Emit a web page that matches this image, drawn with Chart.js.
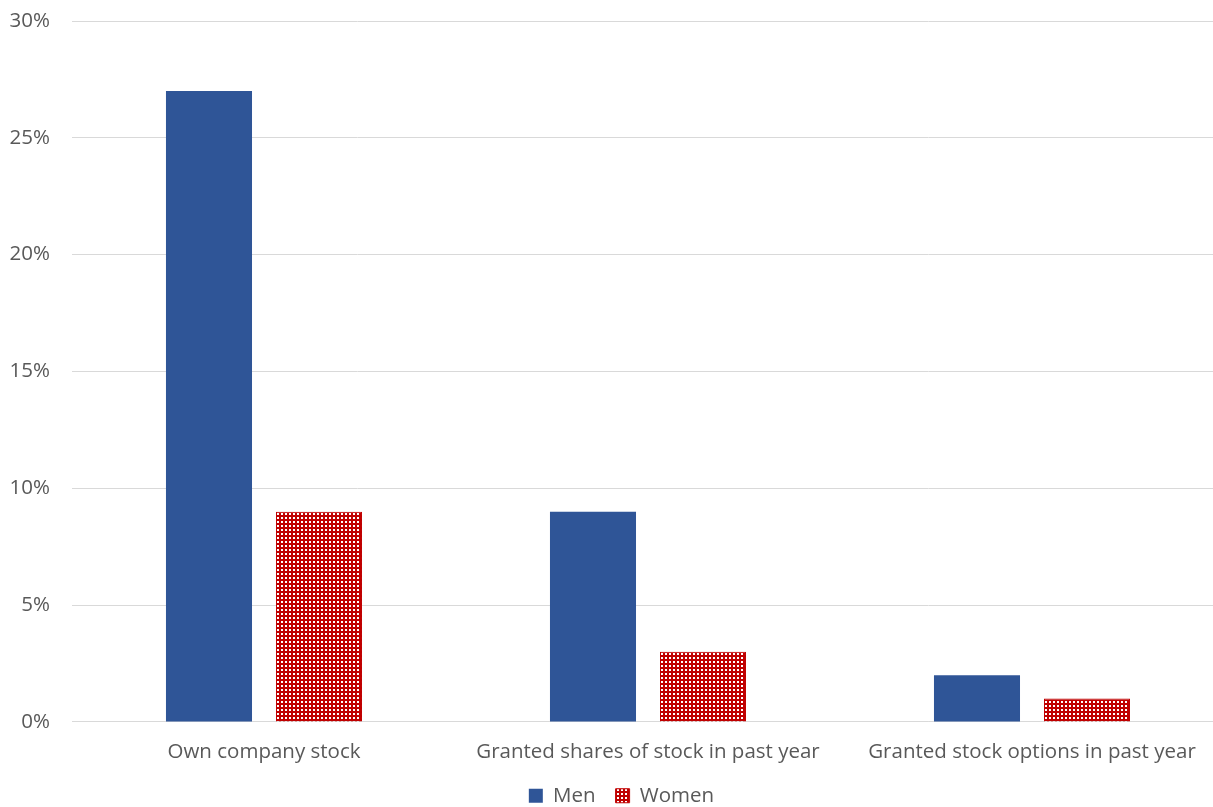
<!DOCTYPE html>
<html><head><meta charset="utf-8">
<script src="https://cdn.jsdelivr.net/npm/chart.js@4/dist/chart.umd.min.js"></script>
<style>html,body{margin:0;padding:0;background:#fff;overflow:hidden}#wrap{width:1213px;height:807px}</style>
</head><body><div id="wrap"><canvas id="c" width="1213" height="807"></canvas></div>
<script>
const categories = ["Own company stock", "Granted shares of stock in past year", "Granted stock options in past year"];
const menValues = [27, 9, 2];
const womenValues = [9, 3, 1];
const yTicks = [0, 5, 10, 15, 20, 25, 30];

function makePattern(){
  const p = document.createElement('canvas');
  p.width = 4; p.height = 4;
  const g = p.getContext('2d');
  g.fillStyle = '#c00000'; g.fillRect(0,0,4,4);
  g.fillStyle = '#ffffff'; g.fillRect(1,1,2,2);
  return document.getElementById('c').getContext('2d').createPattern(p,'repeat');
}
const pat = makePattern();
const FONT = 'Open Sans';
const FS = 20.5;
const PLOT_RIGHT = 1224;
const LEGEND_SHIFT_X = 10;
const LEGEND_SHIFT_Y = -9;

const extendPlot = {
  id: 'extendPlot',
  afterLayout(chart) {
    const x = chart.scales.x;
    x.right = PLOT_RIGHT;
    x.width = x.right - x.left;
    x.configure();
    chart.chartArea.right = PLOT_RIGHT;
    chart.chartArea.width = PLOT_RIGHT - chart.chartArea.left;
    if (chart.legend) {
      chart.legend.left += LEGEND_SHIFT_X;
      chart.legend.right += LEGEND_SHIFT_X;
      chart.legend.top += LEGEND_SHIFT_Y;
      chart.legend.bottom += LEGEND_SHIFT_Y;
      if (chart.legend.adjustHitBoxes) chart.legend.adjustHitBoxes();
    }
  }
};

new Chart(document.getElementById('c'), {
  type: 'bar',
  data: {
    labels: categories,
    datasets: [
      {label: 'Men', data: menValues, backgroundColor: '#2f5597', borderWidth: 0,
       barPercentage: 0.782, categoryPercentage: 0.573},
      {label: 'Women', data: womenValues, backgroundColor: pat, borderColor: '#c00000', borderWidth: 1,
       barPercentage: 0.782, categoryPercentage: 0.573}
    ]
  },
  plugins: [extendPlot],
  options: {
    responsive: false, animation: false,
    layout: {padding: {left: 10, right: 0, top: 21, bottom: -18}},
    plugins: {
      legend: {position: 'bottom', labels: {boxWidth: 14, boxHeight: 14, color: '#595959', padding: 20,
        font: {family: FONT, size: FS}}},
      tooltip: {enabled: false}
    },
    scales: {
      x: {grid: {display: false}, border: {color: '#d9d9d9'},
          afterFit: ax => { ax.paddingLeft = 0; ax.paddingRight = 0; },
          ticks: {color: '#595959', font: {family: FONT, size: FS}, padding: 10, maxRotation: 0}},
      y: {min: 0, max: 30, afterBuildTicks: ax => { ax.ticks = yTicks.map(v => ({value: v})); },
          afterFit: ax => { ax.width = 62; ax.paddingTop = 0; ax.paddingBottom = 0; },
          grid: {color: '#d9d9d9', drawTicks: false}, border: {display: false},
          ticks: {color: '#595959', font: {family: FONT, size: FS}, padding: 22, callback: v => v + '%'}}
    }
  }
});
</script></body></html>
